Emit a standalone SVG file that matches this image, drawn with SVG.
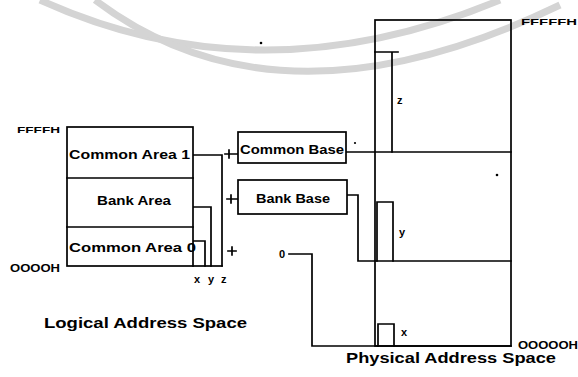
<svg xmlns="http://www.w3.org/2000/svg" width="578" height="377" viewBox="0 0 578 377">
<style>
.ln{fill:none;stroke:#000;stroke-width:1.7;stroke-linecap:square}
.bx{fill:#fff;stroke:#000;stroke-width:1.7}
.t{font-family:"Liberation Sans",Arial,sans-serif;font-weight:bold;fill:#000}
.wm{fill:none;stroke:#d4d4d4;stroke-width:7}
</style>
<rect width="578" height="377" fill="#fff"/>
<g id="watermark">
<path class="wm" d="M40,0 Q260,100 500,0"/>
<path class="wm" d="M95,0 Q280,140 560,5"/>
</g>
<g id="connectors">
<path class="ln" d="M193,155 H222 V266"/>
<path class="ln" d="M193,207 H211 V266"/>
<path class="ln" d="M193,241 H205 V266"/>
<path class="ln" d="M193,266 H222"/>
<path class="ln" d="M225,154 H233 M229,150 V158 M233,154 H238"/>
<path class="ln" d="M227,199 H235 M231,195 V203 M235,199 H238"/>
<path class="ln" d="M228,251 H236 M232,247 V255"/>
<path class="ln" d="M346,152 H511"/>
<path class="ln" d="M347,195 H358 V261 H511"/>
<path class="ln" d="M289,254 H312 V346 H511"/>
</g>
<g id="logical">
<rect class="bx" x="67" y="127" width="126" height="139"/>
<path class="ln" d="M67,178 H193 M67,227 H193"/>
<text class="t" x="69" y="159" font-size="12" textLength="121" lengthAdjust="spacingAndGlyphs">Common Area 1</text>
<text class="t" x="97" y="205" font-size="12" textLength="74" lengthAdjust="spacingAndGlyphs">Bank Area</text>
<text class="t" x="69" y="252" font-size="12" textLength="127" lengthAdjust="spacingAndGlyphs">Common Area 0</text>
<text class="t" x="17" y="133" font-size="9" textLength="43" lengthAdjust="spacingAndGlyphs">FFFFH</text>
<text class="t" x="10" y="272" font-size="10" textLength="50" lengthAdjust="spacingAndGlyphs">OOOOH</text>
<text class="t" x="194" y="283" font-size="11">x</text>
<text class="t" x="208" y="283" font-size="11">y</text>
<text class="t" x="221" y="283" font-size="11">z</text>
<text class="t" x="44" y="328" font-size="15" textLength="203" lengthAdjust="spacingAndGlyphs">Logical Address Space</text>
</g>
<g id="common-base">
<rect class="bx" x="238" y="132" width="108" height="31"/>
<text class="t" x="240" y="154" font-size="12" textLength="104" lengthAdjust="spacingAndGlyphs">Common Base</text>
</g>
<g id="bank-base">
<rect class="bx" x="238" y="180" width="109" height="34"/>
<text class="t" x="256" y="203" font-size="12" textLength="74" lengthAdjust="spacingAndGlyphs">Bank Base</text>
</g>
<g id="zero">
<text class="t" x="279" y="258" font-size="11">0</text>
</g>
<g id="physical">
<rect class="ln" x="375" y="20" width="136" height="326"/>
<path class="ln" d="M375,52 H398 M392,52 V152"/>
<path class="ln" d="M377,261 V202 H393 V261"/>
<path class="ln" d="M378,346 V324 H394 V346"/>
<text class="t" x="397" y="104" font-size="11">z</text>
<text class="t" x="399" y="236" font-size="11">y</text>
<text class="t" x="401" y="336" font-size="11">x</text>
<text class="t" x="521" y="25" font-size="9" textLength="56" lengthAdjust="spacingAndGlyphs">FFFFFH</text>
<text class="t" x="518" y="349" font-size="10" textLength="60" lengthAdjust="spacingAndGlyphs">OOOOOH</text>
<text class="t" x="346" y="363" font-size="14" textLength="210" lengthAdjust="spacingAndGlyphs">Physical Address Space</text>
</g>
<g id="specks">
<circle cx="261" cy="43" r="1.3"/>
<circle cx="355" cy="143" r="1.1"/>
<circle cx="497" cy="175" r="1.3"/>
</g>
</svg>
